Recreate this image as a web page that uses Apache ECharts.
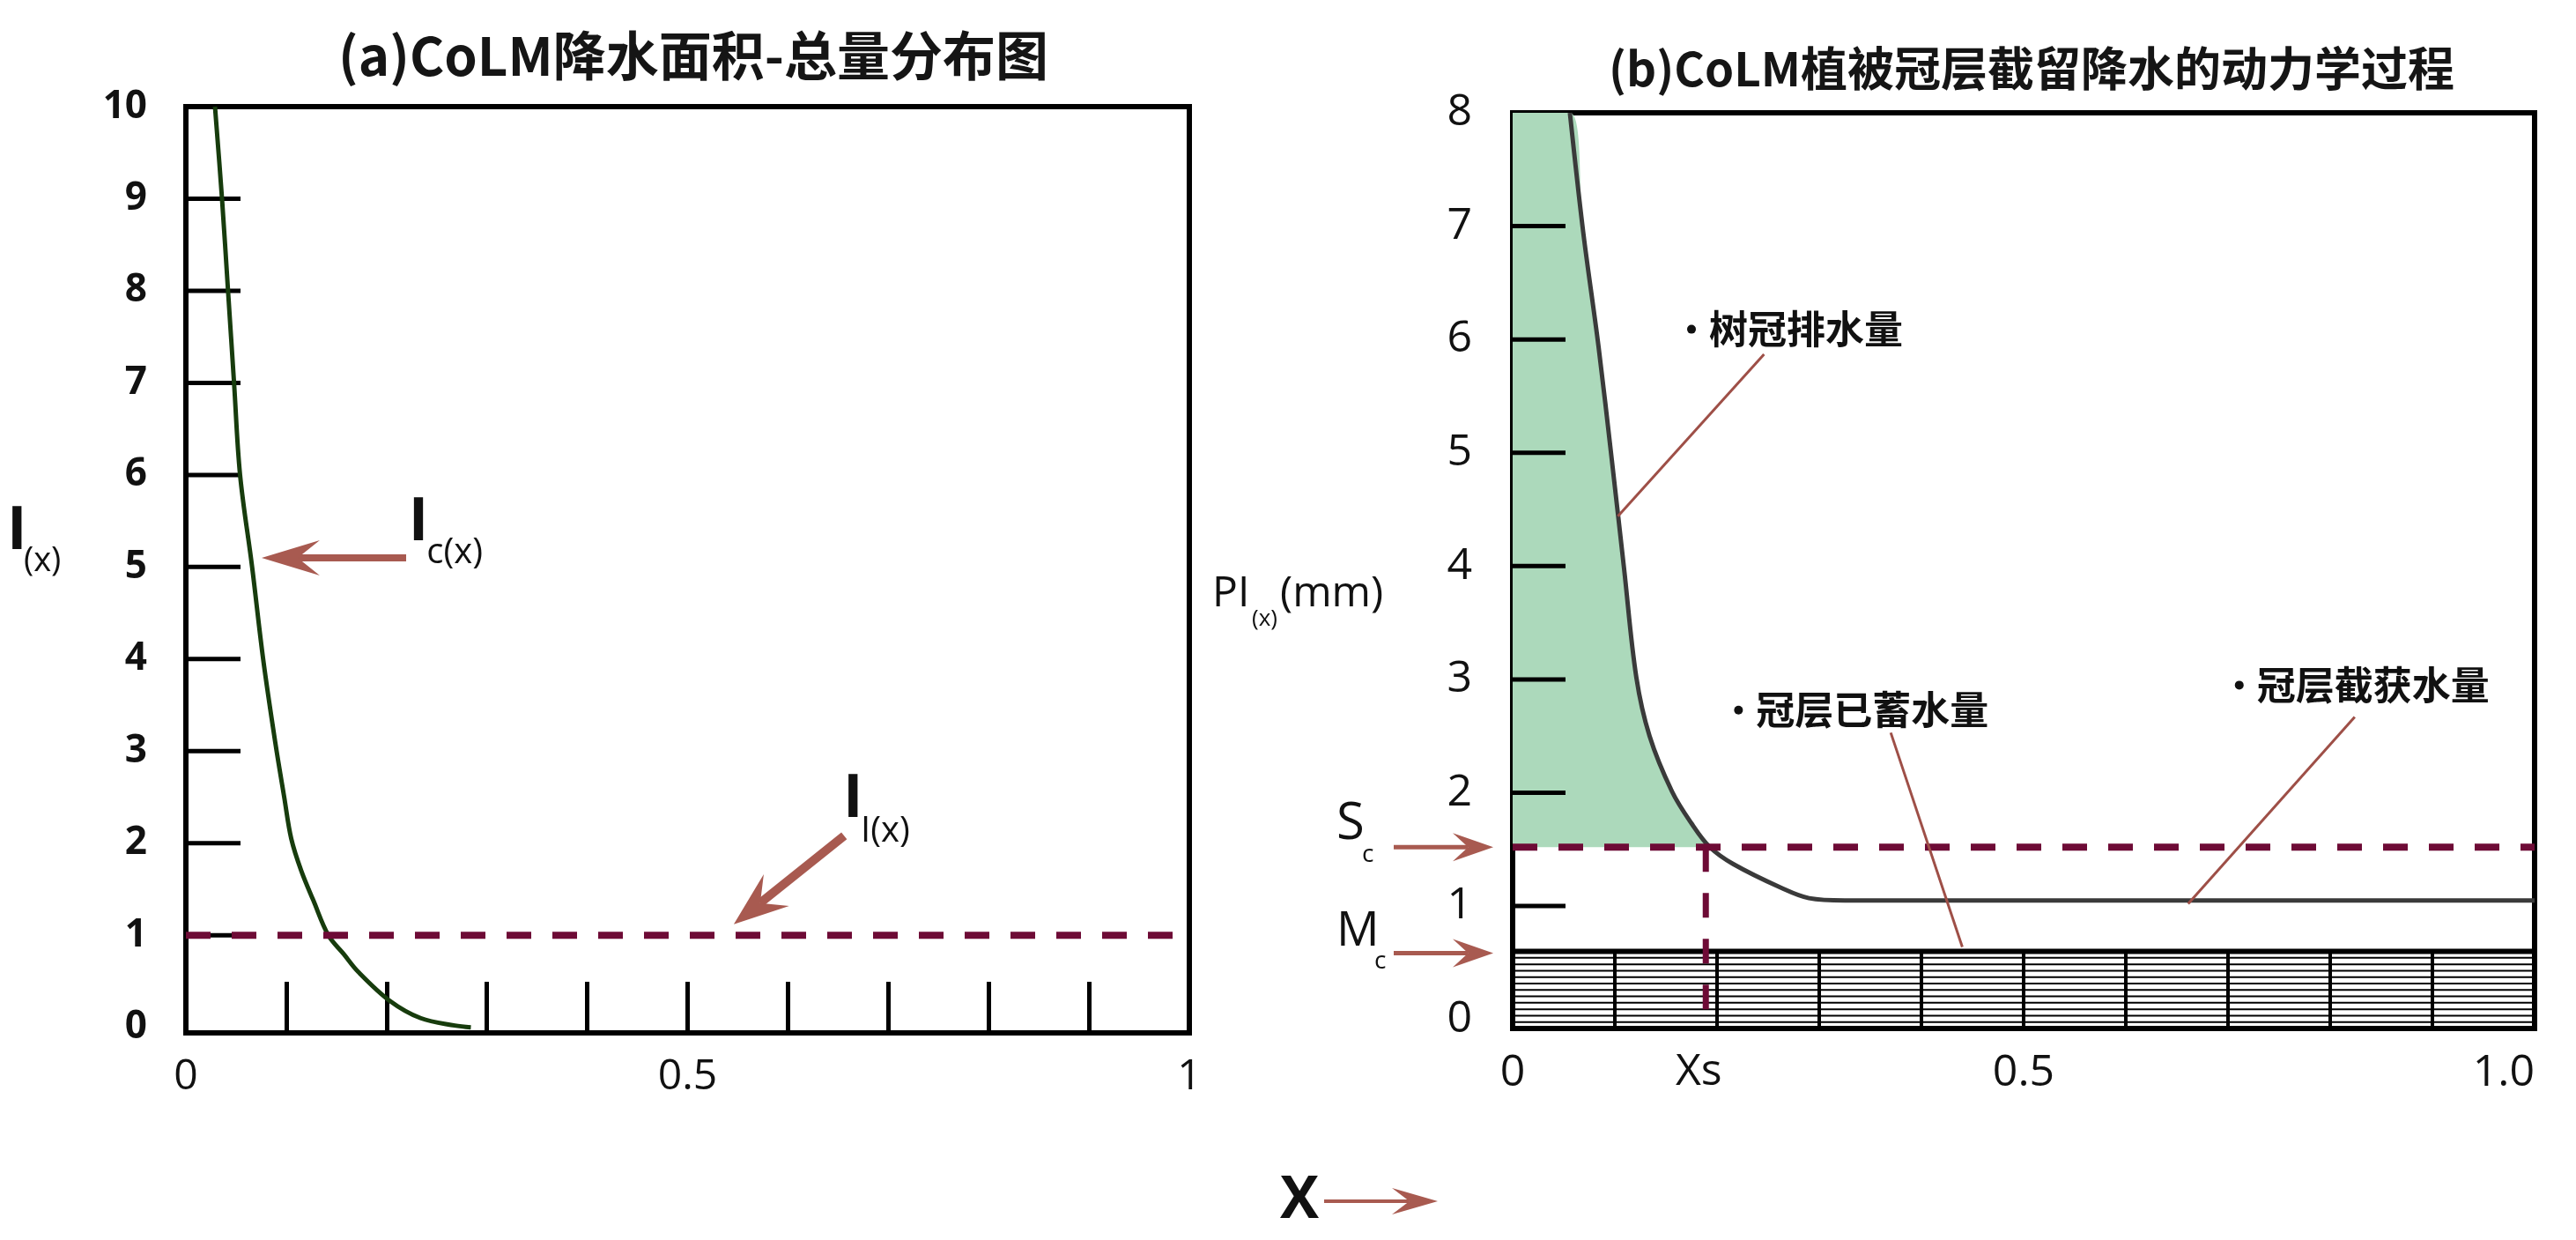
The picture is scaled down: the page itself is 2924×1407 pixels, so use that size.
<!DOCTYPE html>
<html><head><meta charset="utf-8">
<script src="https://cdn.jsdelivr.net/npm/echarts@6/dist/echarts.min.js"></script>
<style>html,body{margin:0;padding:0;background:#fff}#c{width:2924px;height:1407px}</style>
</head><body><div id="c"></div>
<script>
// ---------------- data ----------------
const titleA = '(a)CoLM降水面积-总量分布图';
const titleB = '(b)CoLM植被冠层截留降水的动力学过程';

const xTickValuesA = [0, 0.5, 1];
const xTickLabelsA = ['0', '0.5', '1'];
const yTickMarksA = [1, 2, 3, 4, 5, 6, 7, 8, 9];
const xTickValuesB = [0, 0.5, 1];
const xTickLabelsB = ['0', '0.5', '1.0'];
const yTickMarksB = [1, 2, 3, 4, 5, 6, 7];
const xsLabel = 'Xs';

// (a) I_c(x) curve
const icX = [0.029, 0.036, 0.042, 0.048, 0.054, 0.066, 0.077, 0.089, 0.098, 0.105, 0.115, 0.127, 0.142, 0.157, 0.172, 0.203, 0.234, 0.268, 0.284];
const icY = [10, 9, 8, 7, 6, 5, 4, 3.1, 2.5, 2.05, 1.7, 1.38, 1.0, 0.8, 0.6, 0.29, 0.1, 0.02, 0];
const ilLevel = 1;

// (b) PI(x) curve
const plX = [0.056, 0.069, 0.084, 0.097, 0.109, 0.121, 0.134, 0.156, 0.175, 0.193, 0.216, 0.263, 0.29, 0.325, 1.0];
const plY = [8.0, 6.95, 5.94, 4.94, 3.98, 3.02, 2.5, 2.01, 1.73, 1.52, 1.37, 1.16, 1.07, 1.05, 1.05];
const sc = 1.52;   // S_c level
const mc = 0.60;   // M_c level
const xs = 0.189;  // X_s
const hatchDividers = [0.1, 0.2, 0.3, 0.4, 0.5, 0.6, 0.7, 0.8, 0.9];

const noteTexts = ['树冠排水量', '冠层已蓄水量', '冠层截获水量'];

// ---------------- chart ----------------
const latin = '"Open Sans","Noto Sans",sans-serif';
const cjk = '"Noto Sans CJK SC","Noto Sans",sans-serif';
const near = (a, b) => Math.abs(a - b) < 1e-6;
const arrowColor = '#a85a50';
const leaderColor = '#9e4f47';

const chart = echarts.init(document.getElementById('c'), null, {renderer: 'canvas', width: 2924, height: 1407});

const icData = icX.map((x, i) => [x, icY[i]]);
const plData = plX.map((x, i) => [x, plY[i]]);
const fillData = [[0, plY[0]]].concat(plData.filter(p => p[1] >= sc - 1e-9));

function tickFmt(values, labels) {
  return v => { const i = values.findIndex(t => near(t, v)); return i >= 0 ? labels[i] : ''; };
}
const intFmt = v => near(v, Math.round(v)) ? String(Math.round(v)) : '';

const axisLine = {show: true, onZero: false, lineStyle: {color: '#000', width: 6}};

// inside tick marks on the y axes, placed through the axis scale
function yTickSeries(xAxisIndex, yAxisIndex, values, len) {
  return {type: 'custom', xAxisIndex, yAxisIndex, data: values.map(v => [0, v]), z: 5, silent: true, clip: false,
    renderItem: function (params, api) {
      const p = api.coord([api.value(0), api.value(1)]);
      return {type: 'line', shape: {x1: p[0], y1: p[1], x2: p[0] + len, y2: p[1]}, style: {stroke: '#000', lineWidth: 5}};
    }};
}

chart.setOption({
  backgroundColor: '#fff',
  animation: false,
  title: [
    {text: titleA, left: 782, top: 28, textAlign: 'center',
     textStyle: {fontFamily: cjk, fontSize: 60, fontWeight: 'bold', color: '#151515'}},
    {text: titleB, left: 2301, top: 46, textAlign: 'center',
     textStyle: {fontFamily: cjk, fontSize: 53, fontWeight: 'bold', color: '#151515'}}
  ],
  grid: [
    {left: 211, top: 121, width: 1139, height: 1051, show: true, borderColor: '#000', borderWidth: 6},
    {left: 1717, top: 128, width: 1160, height: 1039, show: true, borderColor: '#000', borderWidth: 6}
  ],
  xAxis: [
    {gridIndex: 0, type: 'value', min: 0, max: 1, interval: 0.1, axisLine,
     axisTick: {show: true, inside: true, length: 58, lineStyle: {color: '#000', width: 5}},
     splitLine: {show: false},
     axisLabel: {formatter: tickFmt(xTickValuesA, xTickLabelsA), fontFamily: latin, fontSize: 48, color: '#111', margin: 26}},
    {gridIndex: 1, type: 'value', min: 0, max: 1, interval: 0.5, axisLine,
     axisTick: {show: false}, splitLine: {show: false},
     axisLabel: {formatter: tickFmt(xTickValuesB, xTickLabelsB), fontFamily: latin, fontSize: 50, color: '#111', margin: 26, alignMaxLabel: 'right'}}
  ],
  yAxis: [
    {gridIndex: 0, type: 'value', min: -0.06, max: 10, splitNumber: 10, axisLine,
     axisTick: {show: false}, splitLine: {show: false},
     axisLabel: {formatter: intFmt, fontFamily: latin, fontSize: 44, fontWeight: 'bold', color: '#111', margin: 44}},
    {gridIndex: 1, type: 'value', min: -0.08, max: 8, splitNumber: 8, axisLine,
     axisTick: {show: false}, splitLine: {show: false},
     axisLabel: {formatter: intFmt, fontFamily: latin, fontSize: 50, color: '#111', margin: 46}}
  ],
  series: [
    {type: 'line', xAxisIndex: 0, yAxisIndex: 0, data: icData, smooth: 0.35,
     symbol: 'none', lineStyle: {color: '#173c0d', width: 5}, z: 7, silent: true},
    {type: 'line', xAxisIndex: 0, yAxisIndex: 0, data: [[0, ilLevel], [1, ilLevel]],
     symbol: 'none', lineStyle: {color: '#6e0b36', width: 8, type: [28, 24]}, z: 8, silent: true},
    {type: 'line', xAxisIndex: 1, yAxisIndex: 1, data: fillData, smooth: 0.35,
     symbol: 'none', lineStyle: {width: 0, opacity: 0}, areaStyle: {color: '#acd9bb', opacity: 1, origin: sc}, z: 1, silent: true},
    {type: 'custom', xAxisIndex: 1, yAxisIndex: 1, data: [[0, mc]], z: 6, silent: true, clip: false,
     renderItem: function (params, api) {
       const cs = params.coordSys;
       const top = api.coord([0, api.value(1)])[1];
       const bottom = cs.y + cs.height;
       const left = cs.x, right = cs.x + cs.width;
       const children = [];
       const n = 11;
       for (let i = 1; i <= n; i++) {
         const y = top + (bottom - top) * i / (n + 1);
         children.push({type: 'line', shape: {x1: left, y1: y, x2: right, y2: y}, style: {stroke: '#000', lineWidth: 2}});
       }
       hatchDividers.forEach(d => {
         const x = api.coord([d, 0])[0];
         children.push({type: 'line', shape: {x1: x, y1: top, x2: x, y2: bottom}, style: {stroke: '#000', lineWidth: 4}});
       });
       children.push({type: 'line', shape: {x1: left, y1: top, x2: right, y2: top}, style: {stroke: '#000', lineWidth: 6}});
       return {type: 'group', children};
     }},
    {type: 'line', xAxisIndex: 1, yAxisIndex: 1, data: plData, smooth: 0.35,
     symbol: 'none', lineStyle: {color: '#3a3a3a', width: 5}, z: 7, silent: true},
    {type: 'line', xAxisIndex: 1, yAxisIndex: 1, data: [[0, sc], [1, sc]],
     symbol: 'none', lineStyle: {color: '#6e0b36', width: 8, type: [28, 24]}, z: 8, silent: true},
    {type: 'line', xAxisIndex: 1, yAxisIndex: 1, data: [[xs, sc], [xs, -0.08]],
     symbol: 'none', lineStyle: {color: '#6e0b36', width: 7, type: [28, 24]}, z: 8, silent: true},
    yTickSeries(0, 0, yTickMarksA, 62),
    yTickSeries(1, 1, yTickMarksB, 60)
  ]
});

// ---------------- annotations ----------------
const P0 = v => chart.convertToPixel({gridIndex: 0}, v);
const P1 = v => chart.convertToPixel({gridIndex: 1}, v);

function txt(x, y, s, size, o) {
  o = o || {};
  return {type: 'text', x: x, y: y, z: 20, silent: true,
    style: {text: s, fontFamily: o.family || latin, fontSize: size, fontWeight: o.weight || 'normal',
      fill: o.color || '#111', align: o.align || 'left', verticalAlign: 'middle'}};
}
function arrow(from, to, shaftW, headL, headW, color) {
  const dx = to[0] - from[0], dy = to[1] - from[1], L = Math.hypot(dx, dy);
  const ux = dx / L, uy = dy / L, nx = -uy, ny = ux;
  const base = [to[0] - ux * headL, to[1] - uy * headL];
  const notch = [to[0] - ux * headL * 0.62, to[1] - uy * headL * 0.62];
  return [
    {type: 'line', z: 20, silent: true, shape: {x1: from[0], y1: from[1], x2: notch[0], y2: notch[1]}, style: {stroke: color, lineWidth: shaftW}},
    {type: 'polygon', z: 20, silent: true, shape: {points: [to, [base[0] + nx * headW / 2, base[1] + ny * headW / 2], notch, [base[0] - nx * headW / 2, base[1] - ny * headW / 2]]}, style: {fill: color}}
  ];
}
function seg(a, b, color, w) {
  return {type: 'line', z: 20, silent: true, shape: {x1: a[0], y1: a[1], x2: b[0], y2: b[1]}, style: {stroke: color, lineWidth: w}};
}
function note(bulletPos, text) {
  return [
    {type: 'circle', z: 20, silent: true, shape: {cx: bulletPos[0], cy: bulletPos[1], r: 5}, style: {fill: '#111'}},
    txt(bulletPos[0] + 20, bulletPos[1], text, 44, {family: cjk, weight: 'bold'})
  ];
}

const g = [];
// (a) y-axis title I(x)
g.push(txt(8, 604, 'I', 68, {weight: 'bold'}));
g.push(txt(27, 637, '(x)', 38));
// I_c(x)
let p = P0([0.222, 5.48]); g.push(txt(p[0], p[1], 'I', 68, {weight: 'bold'}));
p = P0([0.240, 5.15]); g.push(txt(p[0], p[1], 'c(x)', 40));
g.push(...arrow(P0([0.2195, 5.10]), P0([0.0755, 5.10]), 8, 66, 40, arrowColor));
// I_I(x)
p = P0([0.655, 2.47]); g.push(txt(p[0], p[1], 'I', 68, {weight: 'bold'}));
p = P0([0.6725, 2.13]); g.push(txt(p[0], p[1], 'I(x)', 40));
g.push(...arrow(P0([0.656, 2.08]), P0([0.546, 1.12]), 10, 62, 46, arrowColor));

// (b) y-axis title
g.push(txt(1376, 674, 'PI', 48));
g.push(txt(1421, 703, '(x)', 26));
g.push(txt(1453, 674, '(mm)', 48));
// S_c and M_c
const gl = P1([0, 0])[0];
const scPx = P1([0, sc])[1];
const mcPx = P1([0, mc])[1];
g.push(txt(gl - 200, scPx - 26, 'S', 58));
g.push(txt(gl - 171, scPx + 9, 'c', 28));
g.push(...arrow([gl - 135, scPx], [gl - 22, scPx], 5, 46, 32, arrowColor));
g.push(txt(gl - 200, mcPx - 22, 'M', 54));
g.push(txt(gl - 157, mcPx + 11, 'c', 28));
g.push(...arrow([gl - 135, mcPx + 2], [gl - 22, mcPx + 2], 5, 46, 32, arrowColor));
// Xs tick label
p = P1([xs, -0.08]);
g.push(txt(p[0] - 8, p[1] + 50, xsLabel, 50, {align: 'center'}));
// notes with leader lines
g.push(...note(P1([0.175, 6.09]), noteTexts[0]));
g.push(seg(P1([0.246, 5.87]), P1([0.103, 4.44]), leaderColor, 3));
g.push(...note(P1([0.221, 2.73]), noteTexts[1]));
g.push(seg(P1([0.37, 2.53]), P1([0.44, 0.64]), leaderColor, 3));
g.push(...note(P1([0.711, 2.95]), noteTexts[2]));
g.push(seg(P1([0.824, 2.67]), P1([0.661, 1.02]), leaderColor, 3));
// bottom X ->
g.push(txt(1453, 1363, 'X', 66, {weight: 'bold'}));
g.push(...arrow([1503, 1363], [1632, 1363], 4, 52, 30, arrowColor));

chart.setOption({graphic: g});
</script>
</body></html>
